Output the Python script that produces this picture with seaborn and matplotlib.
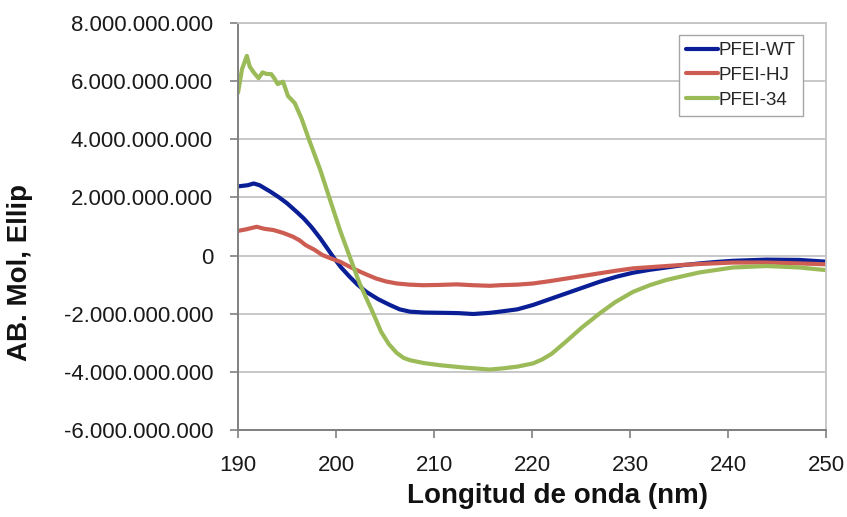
import matplotlib
matplotlib.use("Agg")
import matplotlib.pyplot as plt
import matplotlib.ticker as mticker
import numpy as np
import pandas as pd
import seaborn as sns

# CD spectra: mean residue ellipticity vs wavelength (values in units of 1e9)
SCALE = 1e9

wl_wt = [190.0, 190.5, 191.0, 191.6, 192.2, 193.3, 194.2, 195.0, 196.0, 196.7,
         197.5, 198.4, 199.0, 199.7, 200.5, 201.4, 202.2, 203.1, 204.3, 205.5,
         206.5, 207.55, 209.0, 211.0, 212.5, 214.0, 215.7, 216.7, 218.5, 220.1,
         221.8, 223.5, 225.2, 226.9, 228.6, 230.3, 232.0, 233.7, 235.4, 237.1,
         238.8, 240.5, 243.9, 247.3, 250.0]
val_wt = [2.38, 2.40, 2.42, 2.48, 2.42, 2.20, 2.00, 1.80, 1.50, 1.28,
          0.98, 0.59, 0.30, -0.04, -0.40, -0.73, -1.00, -1.25, -1.50, -1.70,
          -1.85, -1.93, -1.96, -1.97, -1.98, -2.01, -1.97, -1.93, -1.85, -1.70,
          -1.50, -1.30, -1.10, -0.90, -0.73, -0.59, -0.49, -0.41, -0.33, -0.27,
          -0.22, -0.18, -0.14, -0.15, -0.21]

wl_hj = [190.0, 190.8, 191.9, 192.7, 193.6, 194.6, 195.6, 196.3, 196.9, 197.8,
         198.6, 199.5, 200.4, 201.2, 202.1, 203.1, 204.1, 205.1, 206.2, 207.5,
         208.9, 210.5, 212.3, 214.0, 215.7, 216.7, 218.5, 220.1, 221.8, 223.5,
         225.2, 226.9, 228.6, 230.3, 232.0, 233.7, 235.4, 237.1, 240.5, 243.9,
         247.3, 250.0]
val_hj = [0.85, 0.90, 0.99, 0.92, 0.88, 0.78, 0.65, 0.52, 0.36, 0.20,
          0.02, -0.10, -0.21, -0.35, -0.50, -0.65, -0.79, -0.89, -0.96, -1.00,
          -1.02, -1.01, -0.99, -1.02, -1.04, -1.02, -1.00, -0.96, -0.88, -0.79,
          -0.70, -0.61, -0.52, -0.44, -0.40, -0.36, -0.32, -0.29, -0.24, -0.24,
          -0.27, -0.30]

wl_34 = [190.0, 190.4, 190.9, 191.2, 191.6, 192.1, 192.5, 192.9, 193.4, 193.7,
         194.05, 194.6, 195.1, 195.8, 196.5, 197.2, 198.4, 199.4, 200.4, 201.4,
         202.4, 203.8, 204.6, 205.4, 206.2, 206.9, 207.55, 209.0, 210.6, 213.0,
         215.7, 217.0, 218.5, 220.1, 221.0, 222.0, 223.5, 225.0, 226.9, 228.5,
         230.3, 232.0, 233.7, 235.5, 237.1, 240.5, 243.9, 247.3, 250.0]
val_34 = [5.60, 6.40, 6.87, 6.50, 6.30, 6.10, 6.30, 6.25, 6.24, 6.10,
          5.90, 5.98, 5.49, 5.24, 4.70, 4.03, 2.94, 1.91, 0.88, -0.04,
          -0.95, -1.99, -2.62, -3.05, -3.35, -3.52, -3.60, -3.70, -3.77, -3.85,
          -3.92, -3.88, -3.82, -3.71, -3.58, -3.38, -2.95, -2.50, -1.99, -1.60,
          -1.25, -1.02, -0.84, -0.70, -0.58, -0.41, -0.36, -0.41, -0.50]

series_names = ["PFEI-WT", "PFEI-HJ", "PFEI-34"]
series_colors = ["#0A1E96", "#CD5D52", "#9BBB59"]

frames = []
for name, wl, val in zip(series_names, [wl_wt, wl_hj, wl_34], [val_wt, val_hj, val_34]):
    frames.append(pd.DataFrame({"wl": wl, "elip": np.array(val) * SCALE, "muestra": name}))
df = pd.concat(frames, ignore_index=True)

sns.set_theme(style="white")
plt.rcParams["font.family"] = ["Liberation Sans", "DejaVu Sans"]

fig = plt.figure(figsize=(8.47, 5.17), dpi=100)
ax = fig.add_axes([238 / 847, 1 - 430 / 517, 588 / 847, 407 / 517])

sns.lineplot(data=df, x="wl", y="elip", hue="muestra", hue_order=series_names,
             palette=dict(zip(series_names, series_colors)), estimator=None,
             sort=False, linewidth=3.0, ax=ax)

ax.set_xlim(190, 250)
ax.set_ylim(-6e9, 8e9)
ax.set_xticks(np.arange(190, 251, 10))
ax.set_yticks(np.arange(-6e9, 8.1e9, 2e9))
ax.yaxis.set_major_formatter(mticker.FuncFormatter(
    lambda v, _: f"{int(round(v)):,}".replace(",", ".")))

grid_c = "#c4c4c4"
ax.grid(axis="y", color=grid_c, linewidth=1.3)
ax.set_axisbelow(True)
for side in ("left", "bottom"):
    ax.spines[side].set_color("#808080")
    ax.spines[side].set_linewidth(1.4)
for side in ("right", "top"):
    ax.spines[side].set_color(grid_c)
    ax.spines[side].set_linewidth(1.3)

ax.tick_params(axis="both", which="major", direction="out", length=6, width=1.2,
               color="#808080", labelsize=16, labelcolor="#1a1a1a")
ax.tick_params(axis="y", pad=12)
ax.tick_params(axis="x", pad=12)
ax.tick_params(left=True, bottom=True)

ax.set_xlabel("Longitud de onda (nm)", fontsize=20, fontweight="bold", color="#111111")
ax.set_ylabel("AB. Mol, Ellip", fontsize=20, fontweight="bold", color="#111111")
ax.xaxis.set_label_coords(0.543, -0.13)
ax.yaxis.set_label_coords(-0.348, 0.388)

leg = ax.legend(loc="upper right", bbox_to_anchor=(0.961, 0.9705), borderaxespad=0,
                fontsize=13.5, frameon=True, fancybox=False, framealpha=1,
                edgecolor="#a6a6a6", handlelength=1.7, handletextpad=0.05,
                labelspacing=0.4, borderpad=0.38, title=None)
leg.get_frame().set_linewidth(1.0)
for line in leg.get_lines():
    line.set_linewidth(3.0)

fig.savefig("out.png", dpi=100)
